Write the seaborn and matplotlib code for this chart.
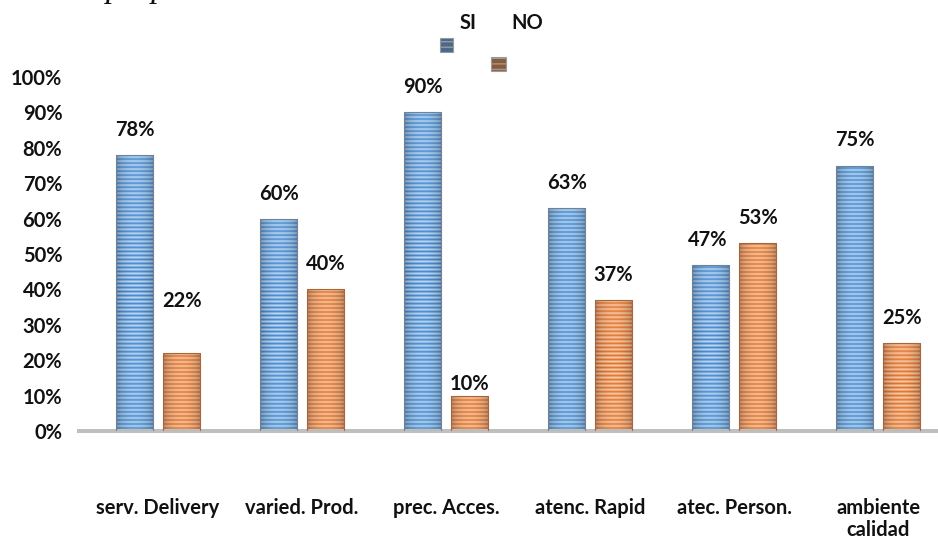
import numpy as np
import pandas as pd
import matplotlib
matplotlib.use("Agg")
import matplotlib.pyplot as plt
import seaborn as sns
from matplotlib.patches import Rectangle
from matplotlib.colors import to_rgb

# Survey results per attribute
categories = ["serv. Delivery", "varied. Prod.", "prec. Acces.",
              "atenc. Rapid", "atec. Person.", "ambiente\ncalidad"]
series = ["SI", "NO"]
si_values = [78, 60, 90, 63, 47, 75]
no_values = [22, 40, 10, 37, 53, 25]
y_ticks = [0, 10, 20, 30, 40, 50, 60, 70, 80, 90, 100]

W, H = 938, 542
FS = 14.5
sns.set_theme(style="white")
plt.rcParams["font.family"] = ["Lato", "DejaVu Sans"]

df = pd.DataFrame({
    "categoria": categories * 2,
    "serie": [series[0]] * len(categories) + [series[1]] * len(categories),
    "valor": si_values + no_values,
})

# stripe colours (light, mid, edge) for each series
stripes = {
    "SI": ("#bcdaf4", "#4a8cd0", "#6f8296"),
    "NO": ("#fccda8", "#e07733", "#a9653a"),
}

fig = plt.figure(figsize=(W / 100, H / 100), dpi=100)
ax = fig.add_axes([79 / W, 111 / H, 859 / W, 354 / H])

sns.barplot(data=df, x="categoria", y="valor", hue="serie",
            order=categories, hue_order=series,
            palette=[stripes["SI"][1], stripes["NO"][1]], saturation=1,
            width=0.653, gap=0.21, legend=False, ax=ax)

px_per_unit = 354 / 100.0
label_offset_px = {("NO", 0): 52, ("NO", 2): 12}
label_dx_px = {("SI", 4): -3}

for p in list(ax.patches):
    x0, w, h = p.get_x(), p.get_width(), p.get_height()
    cx = x0 + w / 2
    idx = int(round(cx))
    serie = "SI" if cx < idx else "NO"
    light, mid, edge = (np.array(to_rgb(c)) for c in stripes[serie])

    # horizontal stripes with darker sides for a rounded look
    nrows = max(int(round(h * px_per_unit / 2)), 1)
    rows = np.array([light if (r % 2 == 0) else mid for r in range(nrows)])
    ncols = 40
    t = (np.arange(ncols) + 0.5) / ncols
    shade = 0.66 + 0.34 * np.sin(np.pi * t) ** 0.5
    img = rows[:, None, :] * shade[None, :, None]
    img = np.clip(img, 0, 1)
    im = ax.imshow(img, extent=(x0, x0 + w, 0, h), origin="lower",
                   aspect="auto", interpolation="bilinear", zorder=2)
    im.set_clip_path(p)
    p.set_facecolor("none")
    p.set_edgecolor(edge)
    p.set_linewidth(0.8)
    p.set_zorder(3)

    values = si_values if serie == "SI" else no_values
    v = values[idx]
    off = label_offset_px.get((serie, idx), 25)
    dx = label_dx_px.get((serie, idx), 0)
    ax.annotate(f"{v}%", xy=(cx, v), xytext=(dx * 0.72, off * 0.72),
                textcoords="offset points", ha="center", va="center",
                fontsize=FS, fontweight="bold", color="#111111",
                annotation_clip=False, zorder=5)

ax.set_xlim(-0.549, 5.416)
ax.set_ylim(0, 100)
ax.set_yticks(y_ticks)
ax.set_yticklabels([f"{v}%" for v in y_ticks])
ax.set_xlabel("")
ax.set_ylabel("")
ax.tick_params(axis="both", length=0, labelsize=FS, colors="#111111")
ax.tick_params(axis="y", pad=12)
ax.tick_params(axis="x", pad=48)
for lab in ax.get_xticklabels() + ax.get_yticklabels():
    lab.set_fontweight("bold")
for lab in ax.get_xticklabels():
    lab.set_linespacing(1.15)
for s in ["top", "right", "left"]:
    ax.spines[s].set_visible(False)
ax.spines["bottom"].set_color("#bfbfbf")
ax.spines["bottom"].set_linewidth(2.9)
ax.grid(False)

# legend entries
fig.text(468 / W, 1 - 23 / H, "SI", ha="center", va="center",
         fontsize=FS, fontweight="bold", color="#111111")
fig.text(527 / W, 1 - 23 / H, "NO", ha="center", va="center",
         fontsize=FS, fontweight="bold", color="#111111")
for (lx, ly, lw, lh), col in [((440, 38, 13, 14), "#46698d"),
                              ((491, 57, 15, 14), "#8e5a36")]:
    fig.add_artist(Rectangle((lx / W, 1 - (ly + lh) / H), lw / W, lh / H,
                             transform=fig.transFigure, facecolor=col,
                             edgecolor="#9a9a9a", linewidth=0.8,
                             hatch="---"))

# source caption at the top edge
fig.text(194 / W, 1 + 3 / H, "Fuente: Elaboración propia", ha="right",
         va="baseline", fontsize=24, style="italic",
         family=["Liberation Serif", "DejaVu Serif"], color="#111111")

fig.savefig("out.png", dpi=100, facecolor="white")
